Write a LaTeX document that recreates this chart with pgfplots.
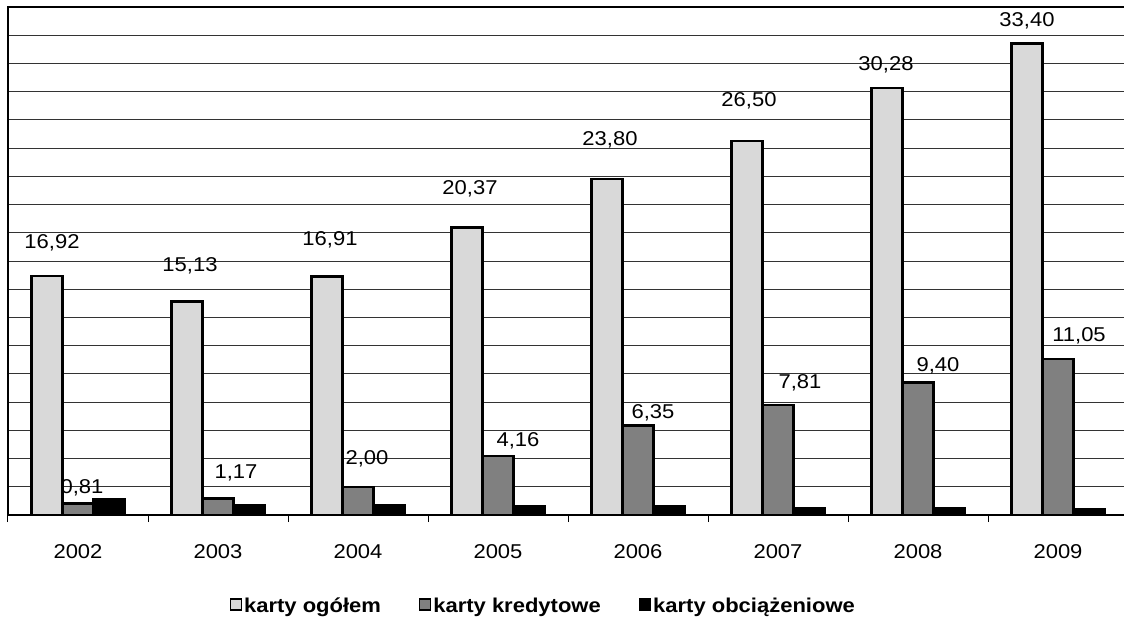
\documentclass[border=0pt]{standalone}
\usepackage{fontspec}
\setmainfont{Liberation Sans}[FakeStretch=1.1]
\usepackage{pgfplots}
\usepackage{pgfplotstable}
\pgfplotsset{compat=1.18}

\definecolor{jasny}{RGB}{217,217,217}
\definecolor{sredni}{RGB}{128,128,128}

\newcommand{\napisy}{\fontsize{20}{24}\selectfont}

% year index, value, label shift (x, y) in pt
\pgfplotstableread{
x y dx dy
0 16.92 5 33
1 15.13 3 36
2 16.91 3 37
3 20.37 3 39
4 23.80 3 39
5 26.50 2 40
6 30.28 -1 23
7 33.40 0 23
}\ogolem

\pgfplotstableread{
x y dx dy
0 0.81 4 16
1 1.17 18 26
2 2.00 9 28
3 4.16 20 15
4 6.35 15 13
5 7.81 22 22
6 9.40 20 17
7 11.05 21 23
}\kredytowe

\pgfplotstableread{
x y
0 1.10
1 0.70
2 0.70
3 0.65
4 0.60
5 0.50
6 0.45
7 0.40
}\obciazeniowe

\begin{document}
\begin{tikzpicture}[font=\napisy]
\begin{axis}[
    at={(8pt,103pt)}, anchor=south west,
    scale only axis,
    width=1120pt, height=508pt,
    ybar=0pt, bar width=31pt,
    xmin=-0.5, xmax=7.5,
    ymin=0, ymax=36,
    xtick={0,...,7},
    xticklabels={2002,2003,2004,2005,2006,2007,2008,2009},
    minor xtick={-0.5,0.5,...,7.5},
    xtick pos=lower,
    tick align=outside,
    major tick length=0pt,
    minor tick length=7pt,
    minor tick style={black, line width=1pt},
    xticklabel style={anchor=center, yshift=-36.5pt, font=\napisy},
    ytick={0,2,...,36},
    yticklabels={},
    ytick style={draw=none},
    ymajorgrids=true,
    major grid style={black!80, line width=0.9pt},
    axis line style={black, line width=1.2pt},
    /pgf/number format/assume math mode=true,
    nodes near coords style={anchor=center, font=\napisy},
    legend columns=3,
    legend style={at={(0.478,-0.179)}, anchor=center, draw=none,
        font=\bfseries\napisy,
        /tikz/every even column/.append style={column sep=36pt}},
    legend image code/.code={\draw[#1, draw=black, line width=1.3pt] (0pt,-4pt) rectangle (11pt,7pt);},
]
\addplot[fill=jasny, draw=black, line width=2.4pt,
    nodes near coords={\pgfmathprintnumber[fixed, fixed zerofill, precision=2, use comma]{\pgfplotspointmeta}},
    visualization depends on={\thisrow{dx} \as \dx},
    visualization depends on={\thisrow{dy} \as \dy},
    every node near coord/.append style={xshift=\dx pt, yshift=\dy pt}]
    table[x=x, y=y] {\ogolem};
\addlegendentry{karty ogółem}

\addplot[fill=sredni, draw=black, line width=2.4pt,
    nodes near coords={\pgfmathprintnumber[fixed, fixed zerofill, precision=2, use comma]{\pgfplotspointmeta}},
    visualization depends on={\thisrow{dx} \as \dx},
    visualization depends on={\thisrow{dy} \as \dy},
    every node near coord/.append style={xshift=\dx pt, yshift=\dy pt}]
    table[x=x, y=y] {\kredytowe};
\addlegendentry{karty kredytowe}

\addplot[fill=black, draw=black, line width=2.4pt]
    table[x=x, y=y] {\obciazeniowe};
\addlegendentry{karty obciążeniowe}
\end{axis}
\pgfresetboundingbox
\path (0pt,0pt) rectangle (1124pt,618pt);
\end{tikzpicture}
\end{document}
